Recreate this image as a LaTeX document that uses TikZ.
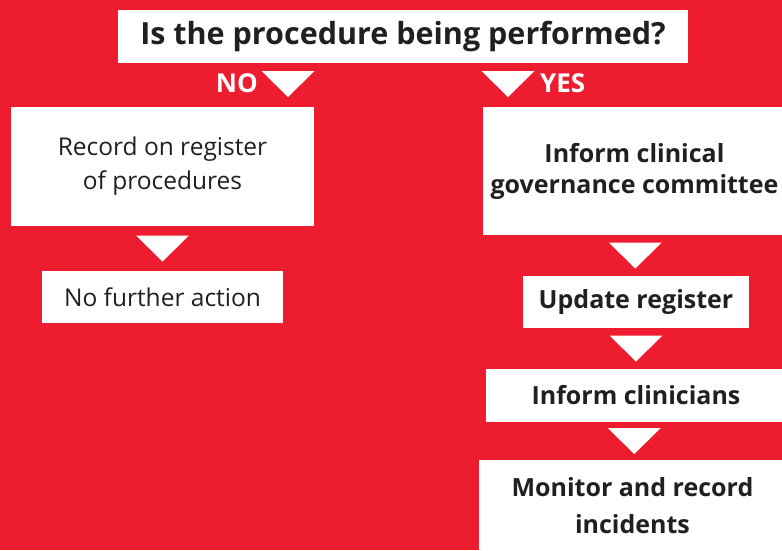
\documentclass[tikz,border=0pt]{standalone}
\usepackage{fontspec}
\setmainfont{Open Sans}
\usetikzlibrary{calc}
\definecolor{nhsred}{RGB}{237,28,46}
\definecolor{ink}{RGB}{35,31,32}

\tikzset{
  box/.style={fill=white, text=ink, align=center, inner sep=0pt,
    font=\fontsize{24.5}{34}\selectfont},
  strong/.style={box, font=\fontsize{25}{31}\selectfont\bfseries},
  answer/.style={text=white, inner sep=0pt, font=\fontsize{26}{30}\selectfont\bfseries},
  tri/.style={fill=white},
}
% white arrow head, centred on a coordinate
\newcommand\downtri[1]{\fill[tri] ($(#1)+(-26.5,-13)$) -- ($(#1)+(26.5,-13)$) -- ($(#1)+(0,13)$) -- cycle;}

\begin{document}
\begin{tikzpicture}[x=1pt,y=-1pt]
\useasboundingbox (0,0) rectangle (782,550);
\fill[nhsred] (0,0) rectangle (782,550);

\node[strong, minimum width=570, minimum height=53,
  font=\fontsize{30.5}{34}\selectfont\bfseries] (q) at (403,36) {Is the procedure being performed?};

% no branch
\node[box, minimum width=303, minimum height=119] (rec) at (162.5,166.5) {Record on register\\of procedures};
\node[box, minimum width=241, minimum height=52] (nfa) at (162.5,297) {No further action};

% yes branch
\node[strong, minimum width=303, minimum height=128] (gov) at (634.5,171) {Inform clinical\\governance committee};
\node[strong, minimum width=226, minimum height=52] (upd) at (636,302) {Update register};
\node[strong, minimum width=300, minimum height=53] (cli) at (636,395.5) {Inform clinicians};
\node[strong, minimum width=307, minimum height=92,
  font=\fontsize{25}{37}\selectfont\bfseries] (mon) at (632.5,506) {Monitor and record\\incidents};

\coordinate (no) at (288,84);
\coordinate (yes) at (508,84);
\node[answer, anchor=east] (nolab) at (258,83) {NO};
\node[answer, anchor=west] (yeslab) at (540,83) {YES};

\coordinate (t1) at ($(rec.south)!.5!(nfa.north)$);
\coordinate (t2) at ($(gov.south)!.5!(upd.north)$);
\coordinate (t3) at ($(upd.south)!.5!(cli.north)$);
\coordinate (t4) at ($(cli.south)!.5!(mon.north)$);

\downtri{no}
\downtri{yes}
\downtri{t1}
\downtri{t2}
\downtri{t3}
\downtri{t4}
\end{tikzpicture}
\end{document}
